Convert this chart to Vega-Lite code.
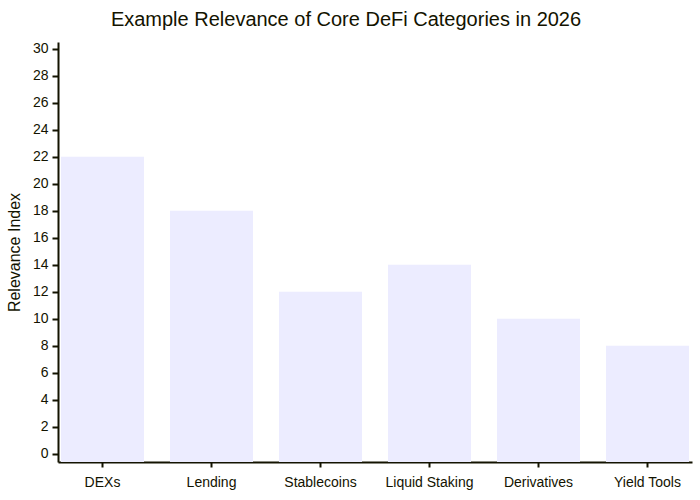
{
  "$schema": "https://vega.github.io/schema/vega-lite/v6.json",
  "width": 634,
  "height": 420,
  "autosize": {"type": "none"},
  "padding": {"left": 58, "top": 42, "right": 8, "bottom": 38},
  "background": "white",
  "title": {
    "text": "Example Relevance of Core DeFi Categories in 2026",
    "fontSize": 20,
    "font": "Liberation Sans",
    "fontWeight": "normal",
    "color": "#131300",
    "anchor": "middle",
    "dx": -29,
    "offset": 12
  },
  "data": {
    "values": [
      {"category": "DEXs", "relevance": 22},
      {"category": "Lending", "relevance": 18},
      {"category": "Stablecoins", "relevance": 12},
      {"category": "Liquid Staking", "relevance": 14},
      {"category": "Derivatives", "relevance": 10},
      {"category": "Yield Tools", "relevance": 8}
    ]
  },
  "mark": {"type": "bar", "color": "#ECECFF"},
  "encoding": {
    "x": {
      "field": "category",
      "type": "nominal",
      "sort": null,
      "scale": {"paddingInner": 0.2385, "paddingOuter": 0.0275},
      "axis": {
        "title": null,
        "labelAngle": 0,
        "labelFont": "Liberation Sans",
        "labelFontSize": 14,
        "labelColor": "#131300",
        "labelPadding": 8,
        "domainColor": "#131300",
        "domainWidth": 2,
        "tickColor": "#131300",
        "tickWidth": 2,
        "tickSize": 5,
        "grid": false
      }
    },
    "y": {
      "field": "relevance",
      "type": "quantitative",
      "scale": {"domain": [-0.6, 30.5], "nice": false, "zero": false},
      "axis": {
        "title": "Relevance Index",
        "titleFont": "Liberation Sans",
        "titleFontSize": 16,
        "titleFontWeight": "normal",
        "titleColor": "#131300",
        "titlePadding": 10,
        "values": [0, 2, 4, 6, 8, 10, 12, 14, 16, 18, 20, 22, 24, 26, 28, 30],
        "labelFont": "Liberation Sans",
        "labelFontSize": 14,
        "labelColor": "#131300",
        "labelPadding": 4,
        "domainColor": "#131300",
        "domainWidth": 2,
        "tickColor": "#131300",
        "tickWidth": 2,
        "tickSize": 6,
        "grid": false
      }
    },
    "y2": {"datum": -0.6}
  },
  "config": {"view": {"stroke": null}}
}
